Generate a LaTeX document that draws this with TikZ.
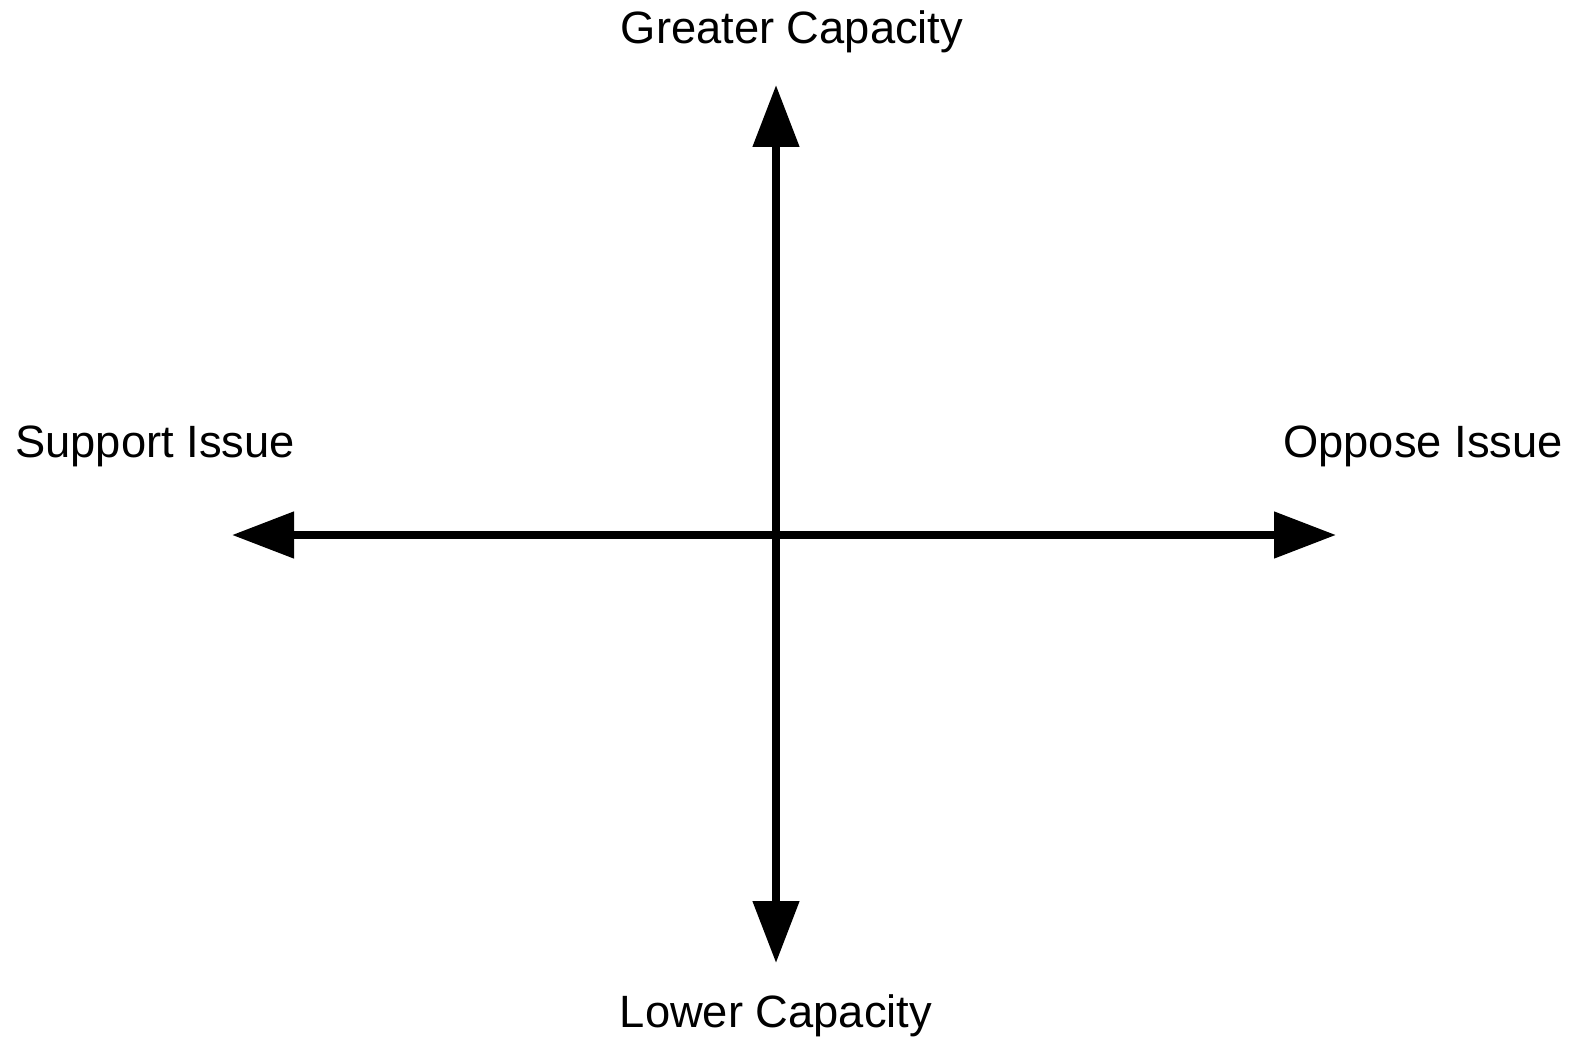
\documentclass[tikz,border=0pt]{standalone}
\usepackage{fontspec}
\setmainfont{Liberation Sans}
\usetikzlibrary{arrows.meta}
\begin{document}
\begin{tikzpicture}[x=1pt,y=-1pt,
  axis/.style={line width=8pt, {Triangle[length=62pt,width=45pt]}-{Triangle[length=62pt,width=45pt]}},
  lab/.style={anchor=base, inner sep=0pt, font=\fontsize{45.3}{50}\selectfont}]
\useasboundingbox (0,0) rectangle (1574,1043);
\coordinate (top) at (776,85);
\coordinate (bot) at (776,963);
\coordinate (left) at (232,535);
\coordinate (right) at (1336,535);
\draw[axis] (bot) -- (top);
\draw[axis] (left) -- (right);
\node[lab] (greater) at (792,44) {Greater Capacity};
\node[lab] (lower) at (776,1027) {Lower Capacity};
\node[lab] (support) at (155,457) {Support Issue};
\node[lab] (oppose) at (1423,457) {Oppose Issue};
\end{tikzpicture}
\end{document}
